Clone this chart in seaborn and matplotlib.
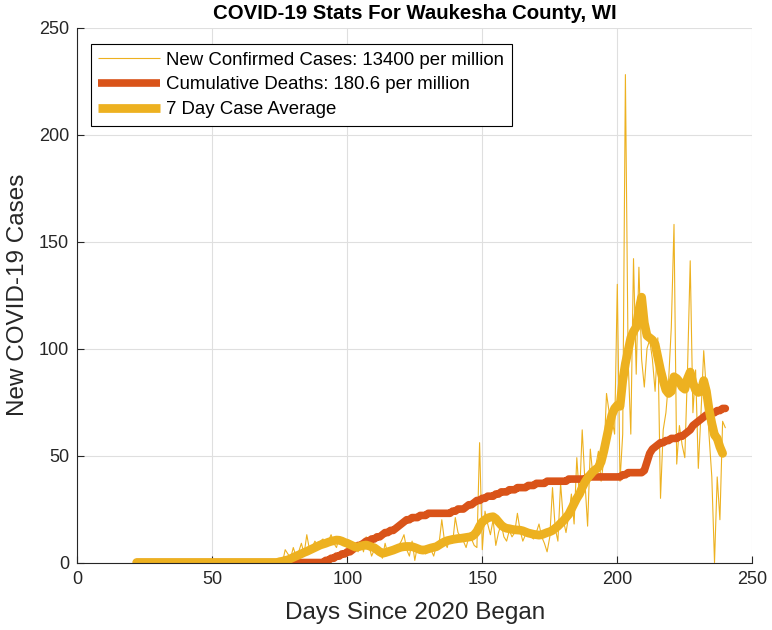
import numpy as np
import pandas as pd
import matplotlib
matplotlib.use("Agg")
import matplotlib.pyplot as plt
import seaborn as sns

# days since 2020 began, first to last reported day
first_day = 22
last_day = 240

# new confirmed cases per day (days 22..240)
new_cases = [0] * 53 + [
    1, 0, 6, 4, 2, 7, 3, 5, 9, 4,
    13, 6, 7, 10, 8, 10, 11, 8, 10, 13,
    9, 7, 12, 10, 8, 7, 10, 8, 7, 5,
    10, 5, 12, 8, 3, 6, 4, 5, 2, 9,
    4, 7, 6, 5, 8, 10, 13, 6, 3, 10,
    1, 8, 6, 7, 4, 5, 6, 3, 8, 9,
    20, 10, 7, 12, 9, 21, 14, 12, 10, 7,
    12, 11, 8, 7, 56, 6, 24, 18, 13, 20,
    8, 14, 18, 12, 10, 15, 12, 14, 23, 15,
    10, 13, 15, 12, 11, 14, 18, 12, 9, 5,
    12, 35, 16, 10, 37, 20, 14, 22, 32, 18,
    49, 30, 62, 38, 17, 53, 40, 45, 52, 38,
    48, 79, 70, 67, 60, 130, 38, 60, 228, 95,
    60, 142, 88, 138, 95, 82, 100, 104, 95, 80,
    105, 30, 62, 70, 85, 110, 158, 46, 64, 55,
    49, 90, 141, 70, 90, 44, 70, 99, 80, 59,
    40, 0, 40, 20, 66, 63,
]

# cumulative deaths (days 22..240)
cum_deaths = [0] * 70 + [
    1, 1, 2, 2, 3, 3, 4, 4, 5, 5,
    6, 7, 8, 8, 9, 10, 10, 11, 11, 12,
    12, 13, 14, 14, 15, 15, 16, 17, 18, 19,
    20, 20, 21, 21, 21, 22, 22, 22, 23, 23,
    23, 23, 23, 23, 23, 23, 23, 24, 24, 25,
    25, 25, 26, 27, 27, 28, 29, 29, 30, 30,
    31, 31, 31, 32, 32, 33, 33, 33, 34, 34,
    34, 35, 35, 35, 35, 36, 36, 36, 37, 37,
    37, 37, 38, 38, 38, 38, 38, 38, 38, 38,
    39, 39, 39, 39, 39, 39, 39, 40, 40, 40,
    40, 40, 40, 40, 40, 40, 40, 40, 40, 40,
    41, 41, 42, 42, 42, 42, 42, 42, 43, 47,
    51, 53, 54, 55, 56, 56, 57, 57, 58, 58,
    58, 59, 59, 60, 61, 62, 64, 65, 66, 67,
    68, 69, 69, 70, 70, 71, 71, 72, 72,
]

# 7 day case average (days 22..239)
case_avg = [0.0] * 53 + [
    0.4, 0.6, 1.0, 1.2, 1.8, 2.4, 3.0, 3.5, 4.1, 4.7,
    5.2, 5.8, 6.4, 7.0, 7.6, 8.2, 8.6, 9.0, 9.5, 9.9,
    10.2, 10.5, 10.4, 10.0, 9.4, 9.0, 8.4, 7.8, 7.2, 7.3,
    7.7, 8.0, 8.2, 7.8, 7.3, 6.9, 6.0, 5.0, 4.3, 4.6,
    5.0, 5.4, 5.8, 6.3, 6.8, 7.2, 7.4, 7.5, 7.5, 7.4,
    7.0, 6.5, 6.0, 5.8, 6.0, 6.4, 6.8, 7.1, 7.4, 8.2,
    9.0, 9.7, 10.2, 10.5, 10.8, 11.0, 11.2, 11.3, 11.5, 11.7,
    11.9, 12.1, 13.0, 14.5, 17.0, 19.0, 20.0, 20.8, 21.2, 21.4,
    20.5, 19.0, 17.5, 16.5, 16.0, 15.8, 15.5, 15.3, 15.2, 15.1,
    14.8, 14.3, 13.8, 13.5, 13.2, 13.0, 12.8, 13.0, 13.5, 14.0,
    14.4, 15.0, 16.0, 17.0, 18.3, 19.5, 21.0, 22.5, 25.0, 27.5,
    30.0, 32.0, 35.0, 37.5, 39.5, 41.0, 42.5, 43.5, 44.5, 47.0,
    52.0, 58.0, 64.0, 69.0, 72.0, 73.5, 73.0, 85.0, 93.0, 99.0,
    105.0, 108.0, 110.0, 118.0, 124.0, 112.0, 106.0, 105.0, 104.0, 102.0,
    96.0, 90.0, 85.0, 80.6, 79.0, 80.0, 86.8, 86.0, 84.5, 82.0,
    81.0, 86.0, 89.0, 84.0, 80.6, 79.5, 80.0, 85.0, 80.0, 71.3,
    65.0, 59.6, 58.0, 54.0, 51.0,
]

ticks = [0, 50, 100, 150, 200, 250]

days = np.arange(first_day, last_day + 1)
df = pd.DataFrame({"day": days, "cases": new_cases, "deaths": cum_deaths})
avg_df = pd.DataFrame({"day": days[:len(case_avg)], "avg": case_avg})

sns.set_style("whitegrid")
plt.rcParams["font.family"] = ["Liberation Sans", "DejaVu Sans"]

axis_color = "#262626"
fig = plt.figure(figsize=(7.72, 6.30), dpi=100)
ax = fig.add_axes([0.1001, 0.1071, 0.8744, 0.8492])

sns.lineplot(data=df, x="day", y="cases", color="#EDB120", linewidth=0.8,
             label="New Confirmed Cases: 13400 per million", ax=ax)
sns.lineplot(data=df, x="day", y="deaths", color="#D95319", linewidth=5.5,
             label="Cumulative Deaths: 180.6 per million", ax=ax)
sns.lineplot(data=avg_df, x="day", y="avg", color="#EDB120", linewidth=6.3,
             label="7 Day Case Average", ax=ax)

ax.set_xlim(0, 250)
ax.set_ylim(0, 250)
ax.set_xticks(ticks)
ax.set_yticks(ticks)
ax.grid(True, color="#dfdfdf", linewidth=0.8)
for side in ["top", "right"]:
    ax.spines[side].set_visible(False)
for side in ["left", "bottom"]:
    ax.spines[side].set_color(axis_color)
    ax.spines[side].set_linewidth(0.8)
ax.tick_params(direction="in", length=5, width=0.8, color=axis_color,
               labelcolor=axis_color, labelsize=13, pad=6,
               left=True, bottom=True)

ax.set_title("COVID-19 Stats For Waukesha County, WI", fontsize=14.7,
             fontweight="bold", color="black", pad=6)
ax.set_xlabel("Days Since 2020 Began", fontsize=17.5, color=axis_color,
              labelpad=10)
ax.set_ylabel("New COVID-19 Cases", fontsize=17.5, color=axis_color,
              labelpad=7)

leg = ax.legend(loc="upper left", bbox_to_anchor=(0.0203, 0.969),
                borderaxespad=0, fontsize=13.4, frameon=True,
                fancybox=False, framealpha=1, edgecolor="black",
                handlelength=3.3, handletextpad=0.35, labelspacing=0.42,
                borderpad=0.4)
leg.get_frame().set_linewidth(0.8)
for text in leg.get_texts():
    text.set_color("black")
for handle in leg.get_lines():
    handle.set_solid_capstyle("butt")

fig.savefig("out.png", dpi=100, facecolor="white")
